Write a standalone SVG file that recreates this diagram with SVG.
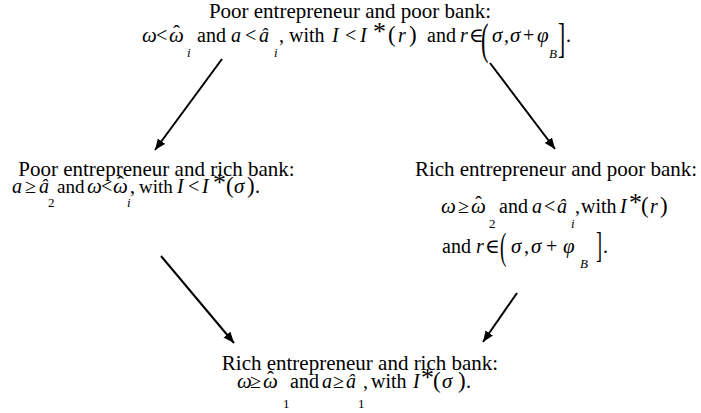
<svg xmlns="http://www.w3.org/2000/svg" width="701" height="413" viewBox="0 0 701 413">
<style>
text{font-family:"Liberation Serif","DejaVu Serif",serif;fill:#000}
.h{font-size:21px;text-anchor:middle}
.t{font-size:20px}
.m{font-size:20px;font-style:italic}
.g{font-size:21px;font-style:italic}
.s{font-size:13px;font-style:italic}
.n{font-size:13px}
.st{font-size:26px}
.p{font-size:23px}
.hat{font-size:21px}
.con line{stroke:#000;stroke-width:2;marker-end:url(#ah)}
</style>
<defs>
<marker id="ah" markerUnits="userSpaceOnUse" markerWidth="12" markerHeight="10" refX="11" refY="4.5" orient="auto">
<path d="M0,0 L11,4.5 L0,9 z" fill="#000"/>
</marker>
</defs>
<rect width="701" height="413" fill="#fff"/>
<g id="top">
<text class="h" x="350" y="18">Poor entrepreneur and poor bank:</text>
<text class="g" x="142" y="42">ω</text>
<text class="t" x="156" y="42">&lt;</text>
<text class="g" x="169" y="42">ω</text>
<text class="hat" x="173" y="40">ˆ</text>
<text class="s" x="187" y="57">i</text>
<text class="t" x="197" y="42">and</text>
<text class="m" x="231" y="42">a</text>
<text class="t" x="245" y="42">&lt;</text>
<text class="m" x="259" y="42">â</text>
<text class="s" x="274" y="57">i</text>
<text class="t" x="279" y="42">, with</text>
<text class="m" x="332" y="42">I</text>
<text class="t" x="345" y="42">&lt;</text>
<text class="m" x="360" y="42">I</text>
<text class="st" x="373" y="40">*</text>
<text class="p" x="388" y="42">(</text>
<text class="m" x="398" y="42">r</text>
<text class="p" x="409" y="42">)</text>
<text class="t" x="427" y="42">and</text>
<text class="m" x="460" y="42">r</text>
<text class="t" x="469" y="42">∈</text>
<text style="font-size:45px" transform="translate(481,54) scale(0.5,1)">(</text>
<text class="g" x="492" y="42">σ</text>
<text class="t" x="504" y="42">,</text>
<text class="g" x="510" y="42">σ</text>
<text class="t" x="523" y="42">+</text>
<text class="g" x="537" y="42">φ</text>
<text class="s" x="549" y="58">B</text>
<text style="font-size:43px" transform="translate(558,52) scale(0.5,1)">]</text>
<text class="t" x="566" y="42">.</text>
</g>
<g id="left">
<text class="h" x="156.5" y="176">Poor entrepreneur and rich bank:</text>
<text class="m" x="12" y="193">a</text>
<text class="t" x="25" y="193">≥</text>
<text class="m" x="39" y="193">â</text>
<text class="n" x="48" y="207">2</text>
<text class="t" style="font-size:19px" x="57" y="193">and</text>
<text class="g" x="87" y="193">ω</text>
<text class="t" x="101" y="193">&lt;</text>
<text class="g" x="113" y="193">ω</text>
<text class="hat" x="117" y="191">ˆ</text>
<text class="s" x="127" y="207">i</text>
<text class="t" x="130" y="193">,</text>
<text class="t" style="font-size:19px" x="139" y="193">with</text>
<text class="m" x="177" y="193">I</text>
<text class="t" x="188" y="193">&lt;</text>
<text class="m" x="202" y="193">I</text>
<text class="st" x="213" y="191">*</text>
<text class="p" x="226" y="193">(</text>
<text class="g" x="234" y="193">σ</text>
<text class="p" x="247" y="193">)</text>
<text class="t" x="255" y="193">.</text>
</g>
<g id="right">
<text class="h" x="556" y="176">Rich entrepreneur and poor bank:</text>
<text class="g" x="441" y="213">ω</text>
<text class="t" x="458" y="213">≥</text>
<text class="g" x="471" y="213">ω</text>
<text class="hat" x="475" y="211">ˆ</text>
<text class="n" x="489" y="228">2</text>
<text class="t" x="499" y="213">and</text>
<text class="m" x="532" y="213">a</text>
<text class="t" x="544" y="213">&lt;</text>
<text class="m" x="557" y="213">â</text>
<text class="s" x="571" y="228">i</text>
<text class="t" x="575" y="213">,</text>
<text class="t" x="581" y="213">with</text>
<text class="m" x="620" y="213">I</text>
<text class="st" x="629" y="211">*</text>
<text class="p" x="641" y="213">(</text>
<text class="m" x="650" y="213">r</text>
<text class="p" x="660" y="213">)</text>
<text class="t" x="442" y="253">and</text>
<text class="m" x="476" y="253">r</text>
<text class="t" x="485" y="253">∈</text>
<text style="font-size:38px" transform="translate(500,259) scale(0.5,1)">(</text>
<text class="g" x="511" y="253">σ</text>
<text class="t" x="524" y="253">,</text>
<text class="g" x="531" y="253">σ</text>
<text class="t" x="546" y="253">+</text>
<text class="g" x="563" y="253">φ</text>
<text class="s" x="580" y="268">B</text>
<text style="font-size:36px" transform="translate(596,257) scale(0.5,1)">]</text>
<text class="t" x="603" y="253">.</text>
</g>
<g id="bottom">
<text class="h" x="360" y="370">Rich entrepreneur and rich bank:</text>
<text class="g" x="237" y="388">ω</text>
<text class="t" x="250" y="388">≥</text>
<text class="g" x="263" y="388">ω</text>
<text class="hat" x="267" y="386">ˆ</text>
<text class="n" x="283" y="408">1</text>
<text class="t" x="290" y="388">and</text>
<text class="m" x="322" y="388">a</text>
<text class="t" x="333" y="388">≥</text>
<text class="m" x="346" y="388">â</text>
<text class="n" x="358" y="408">1</text>
<text class="t" x="363" y="388">,</text>
<text class="t" x="371" y="388">with</text>
<text class="m" x="413" y="388">I</text>
<text class="st" x="421" y="386">*</text>
<text class="p" x="433" y="388">(</text>
<text class="g" x="442" y="388">σ</text>
<text class="p" x="458" y="388">)</text>
<text class="t" x="466" y="388">.</text>
</g>
<g class="con" id="connectors">
<line x1="222" y1="59" x2="155" y2="150"/>
<line x1="490" y1="63" x2="555" y2="149"/>
<line x1="161" y1="256" x2="234" y2="343"/>
<line x1="517" y1="293" x2="483" y2="342"/>
</g>
</svg>
